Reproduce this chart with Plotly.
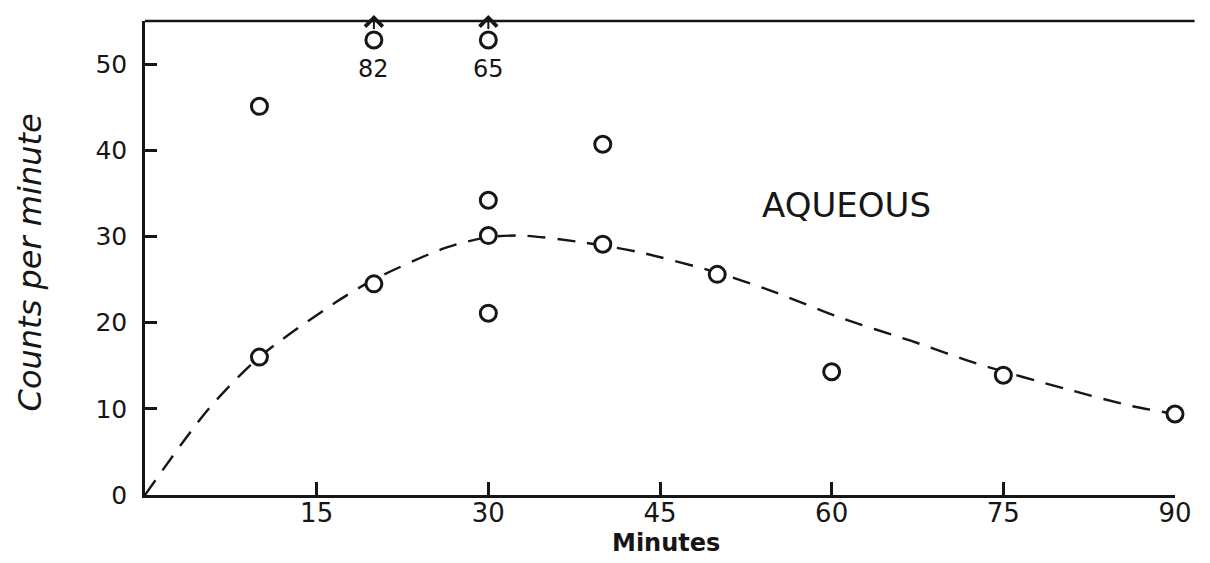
import plotly.graph_objects as go

# ---- data ----
minutes = [10, 10, 20, 30, 30, 30, 40, 40, 50, 60, 75, 90]
counts = [16.0, 45.1, 24.5, 34.2, 30.1, 21.1, 40.7, 29.1, 25.6, 14.3, 13.9, 9.4]

offscale_minutes = [20, 30]
offscale_counts = [82, 65]

curve_minutes = [0, 5.5, 10, 16.6, 20, 26.3, 30, 33, 38.3, 43.1, 50, 54.9, 60.7,
                 66.9, 72.8, 80.5, 86.3, 90]
curve_counts = [0, 9.9, 16.0, 22.3, 25.0, 28.7, 29.9, 30.1, 29.3, 28.2, 25.8, 23.6, 20.6,
                17.9, 15.2, 12.3, 10.3, 9.4]

x_ticks = [15, 30, 45, 60, 75, 90]
y_ticks = [0, 10, 20, 30, 40, 50]

# ---- style constants ----
INK = "#161616"
FONT = "DejaVu Sans"
Y_TOP = 55
OFFSCALE_LEVEL = 52.8

fig = go.Figure()

fig.add_trace(go.Scatter(
    x=curve_minutes, y=curve_counts, mode="lines",
    line=dict(color=INK, width=2.4, dash="18px,12px", shape="spline", smoothing=0.8),
    hoverinfo="skip", cliponaxis=False, showlegend=False))

marker_style = dict(symbol="circle", size=16, color="white", line=dict(color=INK, width=3))

fig.add_trace(go.Scatter(
    x=minutes, y=counts, mode="markers", marker=marker_style,
    cliponaxis=False, showlegend=False))

fig.add_trace(go.Scatter(
    x=offscale_minutes, y=[OFFSCALE_LEVEL] * len(offscale_minutes), mode="markers",
    marker=marker_style, cliponaxis=False, showlegend=False))

annotations = []
for m, v in zip(offscale_minutes, offscale_counts):
    annotations.append(dict(x=m, y=OFFSCALE_LEVEL, xref="x", yref="y", text=str(v),
                            showarrow=False, yshift=-29,
                            font=dict(family=FONT, size=24, color=INK)))
    annotations.append(dict(x=m, y=Y_TOP + 0.7, xref="x", yref="y", ax=m, ay=OFFSCALE_LEVEL + 1.1,
                            axref="x", ayref="y", text="", showarrow=True,
                            arrowhead=4, arrowsize=1.7, arrowwidth=2, arrowcolor=INK))

annotations.append(dict(x=61.3, y=33.6, xref="x", yref="y", text="AQUEOUS", showarrow=False,
                        font=dict(family=FONT, size=34, color=INK)))
annotations.append(dict(x=45.5, y=-0.102, xref="x", yref="paper", text="<b>Minutes</b>",
                        showarrow=False, yanchor="middle",
                        font=dict(family=FONT, size=24, color=INK)))
annotations.append(dict(x=-0.112, y=0.49, xref="paper", yref="paper", xanchor="center",
                        yanchor="middle", text="<i>Counts per minute</i>", textangle=-90,
                        showarrow=False, font=dict(family=FONT, size=32, color=INK)))

fig.update_layout(
    width=1210, height=563, autosize=False,
    margin=dict(l=145, r=35, t=21, b=68),
    paper_bgcolor="white", plot_bgcolor="white",
    annotations=annotations,
    shapes=[dict(type="line", xref="paper", yref="paper", x0=0, x1=1.019, y0=1, y1=1,
                 line=dict(color=INK, width=2.5))],
    xaxis=dict(range=[0, 90], showgrid=False, zeroline=False, showline=True,
               linecolor=INK, linewidth=2.5, ticks="inside", ticklen=13, tickwidth=2.5,
               tickcolor=INK, tickvals=x_ticks, ticktext=[str(t) for t in x_ticks],
               tickfont=dict(family=FONT, size=26, color=INK), ticklabelstandoff=-7),
    yaxis=dict(range=[0, Y_TOP], showgrid=False, zeroline=False, showline=True,
               linecolor=INK, linewidth=2.5, ticks="inside", ticklen=12, tickwidth=2.5,
               tickcolor=INK, tickvals=y_ticks, ticktext=[str(t) for t in y_ticks],
               tickfont=dict(family=FONT, size=25, color=INK), ticklabelstandoff=10),
)

fig.write_html("out.html")
